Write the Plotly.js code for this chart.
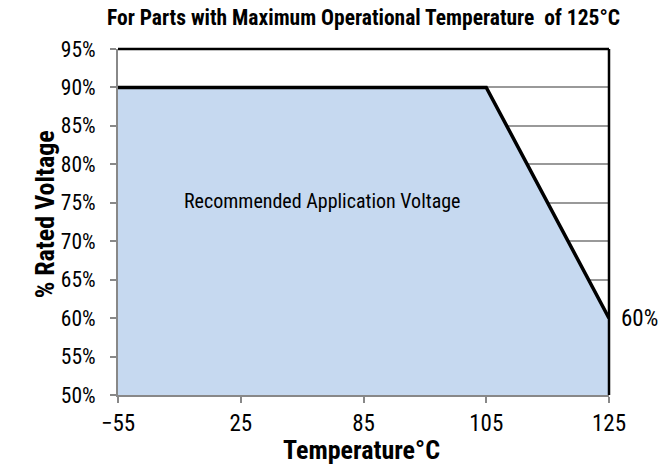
<!DOCTYPE html>
<html>
<head>
<meta charset="utf-8">
<script src="https://cdn.plot.ly/plotly-3.0.1.min.js"></script>
<style>html,body{margin:0;padding:0;background:#fff;}#chart{width:660px;height:466px;}</style>
</head>
<body>
<div id="chart"></div>
<script>
var temperatures = ['\u221255', '25', '85', '105', '125'];
var ratedVoltage = [90, 90, 90, 90, 60];
var yTickValues = [50, 55, 60, 65, 70, 75, 80, 85, 90, 95];
var yTickText = yTickValues.map(function (v) { return v + '%'; });
var regionLabel = 'Recommended Application Voltage';
var endLabel = '60%';
var xTitle = 'Temperature°C';
var yTitle = '% Rated Voltage';

var FONT = '"Roboto Condensed", "Liberation Sans Narrow", Roboto, sans-serif';

var trace = {
  type: 'scatter',
  mode: 'lines',
  x: temperatures,
  y: ratedVoltage,
  fill: 'tozeroy',
  fillcolor: '#c6d9f0',
  line: {color: '#000', width: 3.5},
  hoverinfo: 'skip',
  showlegend: false
};

var layout = {
  width: 660,
  height: 466,
  margin: {l: 118, r: 51, t: 49, b: 71},
  paper_bgcolor: '#fff',
  plot_bgcolor: '#fff',
  font: {family: FONT, color: '#000', size: 22},
  title: {
    text: '<b>For Parts with Maximum Operational Temperature&nbsp; of 125°C</b>',
    font: {family: FONT, size: 21.5, color: '#000'},
    xref: 'paper', x: 0.5, xanchor: 'center',
    yref: 'container', y: 0.962, yanchor: 'middle'
  },
  xaxis: {
    type: 'category',
    range: [0, 4],
    showgrid: false,
    showline: true,
    linecolor: '#888',
    linewidth: 2,
    ticks: 'outside',
    ticklen: 6,
    tickwidth: 2,
    tickcolor: '#888',
    ticklabelstandoff: 0,
    tickfont: {family: FONT, size: 23, color: '#000'},
    zeroline: false,
    fixedrange: true
  },
  yaxis: {
    range: [50, 95],
    tickmode: 'array',
    tickvals: yTickValues,
    ticktext: yTickText,
    showgrid: true,
    gridcolor: '#999',
    gridwidth: 2,
    showline: true,
    linecolor: '#888',
    linewidth: 2,
    ticks: 'outside',
    ticklen: 6,
    tickwidth: 2,
    tickcolor: '#888',
    ticklabelstandoff: 10,
    tickfont: {family: FONT, size: 21.5, color: '#000'},
    zeroline: false,
    fixedrange: true
  },
  shapes: [
    {type: 'line', xref: 'paper', yref: 'paper', x0: 0, x1: 1, y0: 1, y1: 1, line: {color: '#000', width: 2.5}},
    {type: 'line', xref: 'paper', yref: 'paper', x0: 1, x1: 1, y0: 0, y1: 1, line: {color: '#000', width: 2.5}}
  ],
  annotations: [
    {text: regionLabel, x: 1.66, y: 75.2, xref: 'x', yref: 'y', showarrow: false,
     font: {family: FONT, size: 20, color: '#000'}},
    {text: endLabel, x: 1, xref: 'paper', y: 60, yref: 'y', xanchor: 'left', xshift: 10, showarrow: false,
     font: {family: FONT, size: 23, color: '#000'}},
    {text: '<b>' + xTitle + '</b>', xref: 'paper', yref: 'paper', x: 0.496, y: -0.159,
     xanchor: 'center', yanchor: 'middle', showarrow: false,
     font: {family: FONT, size: 26, color: '#000'}},
    {text: '<b>' + yTitle + '</b>', xref: 'paper', yref: 'paper', x: -0.148, y: 0.523,
     xanchor: 'center', yanchor: 'middle', textangle: -90, showarrow: false,
     font: {family: FONT, size: 26, color: '#000'}}
  ]
};

Plotly.newPlot('chart', [trace], layout, {displayModeBar: false, staticPlot: true});
</script>
</body>
</html>
